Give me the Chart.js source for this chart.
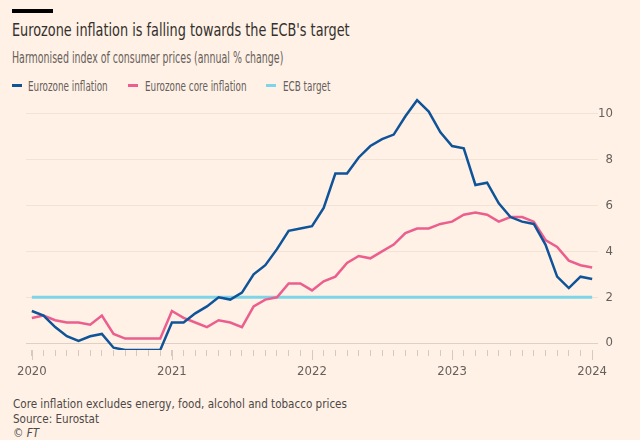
<!DOCTYPE html>
<html>
<head>
<meta charset="utf-8">
<script src="https://cdn.jsdelivr.net/npm/chart.js@4.4.1/dist/chart.umd.min.js"></script>
<style>
  html, body { margin: 0; padding: 0; background: #fff1e5; }
  #wrap { position: relative; width: 640px; height: 440px; overflow: hidden;
    font-family: "DejaVu Sans Condensed", "DejaVu Sans", sans-serif; }
  #wrap div { position: absolute; white-space: nowrap; line-height: 1; transform-origin: 0 0; }
  .bar { left: 12px; top: 9px; width: 41px; height: 4px; background: #000; }
  .title { left: 12px; top: 22px; font-size: 17px; color: #33302e; transform: scaleX(0.84); }
  .sub { left: 12px; top: 51px; font-size: 15px; color: #66605c; transform: scaleX(0.70); }
  .leg { top: 79px; font-size: 14px; color: #66605c; transform: scaleX(0.70); }
  .key { top: 84px; width: 10px; height: 3px; }
  .foot { left: 13px; font-size: 13px; color: #4d4845; transform: scaleX(0.89); }
  canvas { position: absolute; left: 0; top: 0; }
</style>
</head>
<body>
<div id="wrap">
  <div class="bar"></div>
  <div class="title">Eurozone inflation is falling towards the ECB's target</div>
  <div class="sub">Harmonised index of consumer prices (annual % change)</div>
  <div class="key" style="left:12px; background:#0f5499"></div>
  <div class="leg" style="left:28px">Eurozone inflation</div>
  <div class="key" style="left:128px; background:#eb5e8d"></div>
  <div class="leg" style="left:145px">Eurozone core inflation</div>
  <div class="key" style="left:266px; background:#7dd6e8"></div>
  <div class="leg" style="left:283px">ECB target</div>
  <div class="foot" style="top:397px">Core inflation excludes energy, food, alcohol and tobacco prices</div>
  <div class="foot" style="top:412px">Source: Eurostat</div>
  <div class="foot" style="top:426px; font-style: italic">© FT</div>
  <canvas id="myChart" width="640" height="440"></canvas>
</div>
<script>
// monthly, Jan 2020 - Jan 2024
const months = [
  "2020-01", "2020-02", "2020-03", "2020-04", "2020-05", "2020-06", "2020-07", "2020-08", "2020-09", "2020-10", "2020-11", "2020-12",
  "2021-01", "2021-02", "2021-03", "2021-04", "2021-05", "2021-06", "2021-07", "2021-08", "2021-09", "2021-10", "2021-11", "2021-12",
  "2022-01", "2022-02", "2022-03", "2022-04", "2022-05", "2022-06", "2022-07", "2022-08", "2022-09", "2022-10", "2022-11", "2022-12",
  "2023-01", "2023-02", "2023-03", "2023-04", "2023-05", "2023-06", "2023-07", "2023-08", "2023-09", "2023-10", "2023-11", "2023-12",
  "2024-01"
];

const headline = [
  1.4, 1.2, 0.7, 0.3, 0.1, 0.3, 0.4, -0.2, -0.3, -0.3, -0.3, -0.3,
  0.9, 0.9, 1.3, 1.6, 2.0, 1.9, 2.2, 3.0, 3.4, 4.1, 4.9, 5.0,
  5.1, 5.9, 7.4, 7.4, 8.1, 8.6, 8.9, 9.1, 9.9, 10.6, 10.1, 9.2,
  8.6, 8.5, 6.9, 7.0, 6.1, 5.5, 5.3, 5.2, 4.3, 2.9, 2.4, 2.9,
  2.8
];

const core = [
  1.1, 1.2, 1.0, 0.9, 0.9, 0.8, 1.2, 0.4, 0.2, 0.2, 0.2, 0.2,
  1.4, 1.1, 0.9, 0.7, 1.0, 0.9, 0.7, 1.6, 1.9, 2.0, 2.6, 2.6,
  2.3, 2.7, 2.9, 3.5, 3.8, 3.7, 4.0, 4.3, 4.8, 5.0, 5.0, 5.2,
  5.3, 5.6, 5.7, 5.6, 5.3, 5.5, 5.5, 5.3, 4.5, 4.2, 3.6, 3.4,
  3.3
];

const ECB_TARGET = 2;
const target = months.map(() => ECB_TARGET);

const yTicks = [0, 2, 4, 6, 8, 10];

const tickColor = "#d6cabf";
const axisFont = { family: "DejaVu Sans Condensed, DejaVu Sans, sans-serif", size: 13 };

// year ticks are longer than month ticks
const yearTicks = {
  id: "yearTicks",
  afterDraw(chart) {
    const x = chart.scales.x;
    const c = chart.ctx;
    c.save();
    c.strokeStyle = tickColor;
    c.lineWidth = 1;
    months.forEach((m, i) => {
      if (!m.endsWith("-01")) return;
      const px = Math.round(x.getPixelForTick(i)) + 0.5;
      c.beginPath();
      c.moveTo(px, x.top);
      c.lineTo(px, x.top + 10);
      c.stroke();
    });
    c.restore();
  }
};

const ctx = document.getElementById("myChart").getContext("2d");

new Chart(ctx, {
  type: "line",
  data: {
    labels: months,
    datasets: [
      { label: "Eurozone inflation", data: headline, borderColor: "#0f5499", borderWidth: 2.5 },
      { label: "Eurozone core inflation", data: core, borderColor: "#eb5e8d", borderWidth: 2.5 },
      { label: "ECB target", data: target, borderColor: "#7dd6e8", borderWidth: 3 }
    ]
  },
  options: {
    responsive: false,
    animation: false,
    devicePixelRatio: 1,
    layout: { padding: { left: 26, top: 91, right: 27, bottom: 60 } },
    elements: {
      point: { radius: 0 },
      line: { tension: 0, borderJoinStyle: "miter" }
    },
    plugins: {
      legend: { display: false },
      tooltip: { enabled: false }
    },
    scales: {
      x: {
        type: "category",
        offset: true,
        afterFit: (s) => { s.height = 30; },
        border: { display: false },
        grid: {
          offset: false,
          drawOnChartArea: false,
          tickLength: 6,
          tickColor: tickColor
        },
        ticks: {
          autoSkip: false,
          maxRotation: 0,
          padding: 8,
          color: "#66605c",
          font: axisFont,
          callback: function (val, i) {
            const m = months[i];
            return m.endsWith("-01") ? m.slice(0, 4) : "";
          }
        }
      },
      y: {
        position: "right",
        min: -0.3,
        max: 11,
        afterFit: (s) => { s.width = 15; },
        afterBuildTicks: (s) => { s.ticks = yTicks.map((v) => ({ value: v })); },
        border: { display: false },
        grid: {
          drawTicks: false,
          color: (c) => (c.tick && c.tick.value === 0 ? "#ddd0c4" : "#f3e3d5"),
          lineWidth: 1
        },
        ticks: {
          padding: 0,
          crossAlign: "far",
          color: "#66605c",
          font: axisFont
        }
      }
    }
  },
  plugins: [yearTicks]
});
</script>
</body>
</html>
